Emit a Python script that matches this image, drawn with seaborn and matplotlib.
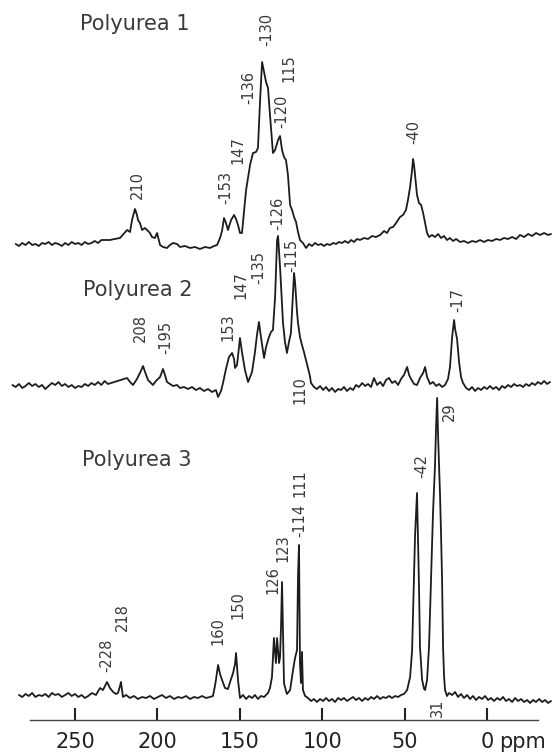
import matplotlib
matplotlib.use("Agg")
import matplotlib.pyplot as plt
import seaborn as sns
import pandas as pd

sns.set_style("white")
plt.rcParams['font.family'] = ['DejaVu Sans']
plt.rcParams['xtick.bottom'] = True

# ---------------- data (ppm, height above each trace's baseline) ----------------
p1_ppm = [286, 284, 282, 280, 278, 276, 274, 272, 270, 268, 266, 264, 262, 260, 258, 256, 254, 252, 250, 248,
          246, 244, 242, 240, 238, 236, 234, 228.8, 226, 222.7, 218.4, 216.6, 215.4, 213.6, 212.4, 211.8, 210.6,
          209.3, 207.5, 206.3, 204.5, 203.3, 201.5, 200.2, 198.4, 196.6, 194.2, 192.4, 190.5, 188.1, 186.3, 183.3,
          180.2, 177.2, 174.2, 171.1, 168.1, 165.7, 163.8, 162, 160.8, 159.6, 158.4, 157.2, 155.3, 153.5, 152.3,
          151.1, 149.9, 148.7, 146.2, 143.8, 142, 140.2, 139, 137.7, 136.5, 135.3, 134.1, 132.9, 131.7, 129.9,
          128.6, 126.8, 125.6, 124.4, 123.2, 122, 120.8, 119.5, 118.3, 117.1, 115.9, 114.7, 113.5, 111.7, 109.8,
          108, 106.2, 104.4, 102.5, 100.7, 98.9, 97.1, 95.3, 93.4, 91.6, 89.8, 88, 86.2, 84.3, 82.5, 80.7, 78.9,
          77.1, 74.6, 72.2, 69.8, 67.4, 64.9, 62.5, 60.7, 58.9, 57, 55.2, 52.8, 51, 49.2, 48, 46.7, 45.5, 44.9,
          44.3, 43.7, 42.5, 41.3, 40, 38.8, 37.6, 36.4, 35.2, 33.4, 31.6, 29.7, 27.9, 26.1, 24.3, 22.5, 20.6,
          18.8, 16.4, 14, 11.5, 9.1, 6.7, 4.2, 1.8, -0.6, -3, -5.5, -7.9, -10.3, -12.7, -15.2, -17.6, -20, -22.5,
          -24.9, -27.3, -29.7, -32.2, -34.6, -37, -38.8]
p1_int = [1, -1, 2, 0, 3, 0, 1, -1, 2, 1, 3, 0, 2, 1, -1, 2, 0, 3, 1, 2,
          0, 3, 1, 2, 4, 2, 5, 5, 6, 7, 15, 13, 25, 36, 30, 25, 22,
          15, 17, 15, 12, 8, 7, 12, 0, -2, -3, 0, 2, 1, -2, -1,
          -3, -2, -4, -2, -3, -1, 0, 7, 14, 27, 22, 15, 25, 30, 26,
          20, 12, 12, 55, 80, 92, 93, 97, 145, 183, 173, 163, 157, 130, 92,
          95, 105, 109, 95, 88, 85, 70, 40, 35, 28, 23, 13, 5, 2, -3,
          1, -1, 2, 0, 1, -1, 1, 0, 2, 1, 3, 2, 4, 2, 5, 3, 6,
          5, 7, 6, 9, 8, 10, 14, 12, 17, 18, 22, 28, 30, 35, 45, 58, 75, 86,
          80, 70, 50, 42, 40, 32, 22, 12, 8, 10, 8, 11, 7, 9, 5, 7, 4,
          6, 3, 4, 2, 4, 3, 5, 3, 5, 4, 6, 5, 7, 6, 8, 6, 10, 8,
          11, 9, 12, 10, 12, 10, 11]

p2_ppm = [288, 286, 284, 282, 280, 278, 276, 274, 272, 270, 268, 266, 264, 262, 260, 258, 256, 254, 252, 250,
          248, 246, 244, 242, 240, 238, 236, 234, 232, 230, 218.4, 216.6, 214.8, 212.4, 210.6, 208.7, 207.5,
          205.7, 203.9, 202.7, 200.9, 198.4, 196.6, 195.4, 194.2, 192.4, 190.5, 188.1, 186.3, 183.9, 181.4, 179,
          176.6, 174.2, 171.7, 169.3, 166.9, 164.5, 163.2, 161.4, 160.2, 158.4, 156.6, 154.7, 153.5, 152.9, 151.7,
          150.5, 149.9, 148.7, 146.9, 145, 142.6, 140.8, 139.6, 138.4, 137.2, 135.9, 135.3, 134.1, 132.3, 131.1,
          129.9, 128.6, 127.4, 126.8, 125.6, 123.8, 122.6, 121.4, 120.2, 119, 117.7, 117.1, 116.5, 115.3, 114.7,
          113.5, 112.3, 111.1, 110, 108.8, 107.6, 106.8, 105, 103.2, 101.3, 99.5, 97.7, 95.9, 94.1, 92.2, 90.4,
          88.6, 86.8, 85, 83.1, 81.3, 79.5, 77.7, 75.8, 74, 72.2, 70.4, 68.6, 66.7, 64.9, 63.1, 61.3, 59.5, 57.6,
          55.8, 54, 52.2, 50.4, 48.5, 47.3, 46.1, 44.3, 42.5, 40.7, 38.8, 37.6, 36.4, 34.6, 32.8, 30.9, 29.1,
          27.3, 25.5, 23.7, 22.5, 21.2, 20, 19.4, 18.2, 17, 15.8, 14.6, 12.7, 10.9, 9.1, 7.3, 5.5, 3.6, 1.8, 0,
          -1.8, -3.6, -5.5, -7.3, -9.1, -10.9, -12.7, -14.6, -16.4, -18.2, -20, -21.8, -23.7, -25.5, -27.3,
          -29.1, -30.9, -32.8, -34.6, -36.4, -38.2]
p2_int = [2, 0, 3, -1, 1, 4, 1, 3, 0, 2, -2, 1, 4, 2, 5, 1, 3, 0, 2, -1,
          1, 0, 3, 1, 4, 2, 5, 2, 6, 3, 9, 5, 2, 8, 14, 21, 15,
          7, 4, 2, 6, 10, 18, 12, 5, 3, 1, 2, -1, 0, -2, 0,
          -3, -1, -4, -2, -5, -3, -10, -4, 4, 18, 30, 34, 28, 19, 22,
          40, 49, 35, 17, 5, 15, 35, 52, 65, 50, 36, 29, 40, 50, 55,
          57, 90, 147, 151, 120, 64, 45, 34, 45, 54, 95, 114, 105, 75, 64,
          50, 42, 35, 28, 20, 12, 4, 0, -2, 1, -3, 0, -4, -1, -5, -2,
          -3, 0, -4, -1, -3, 2, 0, 4, 1, 3, 0, 9, 2, 5, 1, 7, 9, 4,
          6, 2, 8, 12, 20, 12, 8, 3, 2, 9, 14, 20, 10, 3, 5, 1, 3,
          0, 2, 8, 20, 50, 67, 58, 48, 25, 10, 4, -1, -3, 0, -4, -1, -3, 0, -2,
          1, -2, 0, -3, 1, -1, 2, 0, 3, 1, 2, 0, 3, 1, 4,
          2, 5, 3, 6, 3, 5]

p3_ppm = [284, 282, 280, 278, 276, 274, 272, 270, 268, 266, 264, 262, 260, 258, 256, 254, 252, 250, 248, 246,
          244, 242, 239.7, 237.3, 234.8, 233, 230.6, 228.8, 226.9, 225.1, 223.9, 222.7, 222.1, 220.9, 219, 216.6,
          214.2, 211.8, 209.3, 206.9, 204.5, 202.1, 199.6, 197.2, 194.8, 192.4, 189.9, 187.5, 185.1, 182.6, 180.2,
          177.8, 175.4, 172.9, 170.5, 168.1, 166.3, 165.1, 164.5, 163.2, 162, 160.8, 159, 157.2, 155.9, 154.1,
          152.9, 152.3, 151.7, 151.1, 149.9, 148.1, 146.2, 144.4, 142.6, 140.8, 139, 137.2, 135.3, 132.9, 131.7,
          130.5, 129.3, 128.1, 127.4, 126.2, 125.6, 125, 124.4, 123.8, 123.2, 122, 121.4, 119.5, 117.7, 116.5,
          115.3, 114.7, 114.1, 113.5, 112.9, 112.3, 111.7, 110.4, 108.6, 106.8, 105, 103.2, 101.3, 99.5, 97.7,
          95.9, 94.1, 92.2, 90.4, 88.6, 86.8, 85, 83.1, 81.3, 79.5, 77.7, 75.8, 74, 72.2, 70.4, 68.6, 66.7, 64.9,
          63.1, 61.3, 59.5, 57.6, 55.8, 54, 52.2, 50.4, 48.5, 46.7, 45.5, 44.9, 43.7, 42.5, 41.9, 41.3, 40.7,
          39.4, 38.2, 37.6, 36.4, 35.2, 34.6, 33.4, 32.8, 31.6, 31, 30.3, 29.7, 29.1, 28.5, 27.9, 27.3, 26.7,
          26.1, 25.5, 24.3, 23.1, 21.2, 19.4, 17.6, 15.8, 14, 12.1, 10.3, 8.5, 6.7, 4.9, 3, 1.2, -0.6, -2.4,
          -4.2, -6.1, -7.9, -9.7, -11.5, -13.3, -15.2, -17, -18.8, -20.6, -22.5, -24.3, -26.1, -27.9, -29.7,
          -31.6, -33.4, -35.2, -37, -38.8]
p3_int = [1, -1, 2, 0, 3, -1, 1, 0, 2, -1, 3, 1, 2, -1, 1, 3, 0, 2, -1, 1,
          -2, 0, 3, 1, 8, 6, 14, 8, 4, 2, 3, 10, 14, -1, 1, -2,
          0, -3, -1, -2, 0, -3, -1, 1, -2, 0, -3, -1, -2, 0, -3,
          -1, -2, 0, -2, -1, 0, 10, 16, 31, 22, 16, 8, 7, 14, 23,
          32, 43, 30, 16, -2, 1, -3, 0, -2, 1, -3, 0, -1, 3, 8,
          19, 58, 33, 58, 33, 39, 70, 114, 66, 13, 5, 2, 6, 26, 38,
          46, 120, 151, 33, 13, 44, 6, 0, -2, -5, -3, -6, -3, -5, -2,
          -5, -3, -6, -2, -4, -2, -5, -3, -1, -4, -2, -5, -2, -4, -1, -3, 0, -3,
          -1, -2, 0, -2, 0, -1, 1, 2, 6, 19, 45, 83, 160, 203, 156, 110, 49,
          16, 7, 6, 16, 50, 83, 150, 183, 230, 266, 298, 259, 230, 199, 160, 116, 49,
          20, 6, 0, 3, 1, 4, -1, 2, -2, 1, -3, 0, -4, -1, -3, 0, -4, -2,
          -5, -2, -4, -1, -5, -3, -6, -2, -5, -3, -6, -4, -7, -4, -6,
          -3, -6, -4, -7, -5]

trace_names = ["Polyurea 1", "Polyurea 2", "Polyurea 3"]
tick_values = [250, 200, 150, 100, 50, 0]
tick_labels = ["250", "200", "150", "100", "50", "0"]
unit_label = "ppm"

peak_labels_1 = ["210", "-153", "147", "-136", "-130", "-120", "115", "-40"]
peak_ppm_1 = [212.4, 158.4, 151.1, 144.4, 133.5, 124.4, 120.2, 44.3]
peak_labels_2 = ["208", "-195", "153", "147", "-135", "-126", "-115", "110", "-17"]
peak_ppm_2 = [210.6, 194.8, 157.2, 149.3, 138.4, 126.8, 118.3, 113.5, 17.6]
peak_labels_3 = ["-228", "218", "160", "150", "126", "123", "-114", "111", "-42", "29", "31"]
peak_ppm_3 = [230.6, 221.5, 163.2, 151.1, 129.9, 123.8, 113.5, 113.5, 39.4, 23.1, 30.3]

# ---------------- layout / style ----------------
W, H, DPI = 553, 752, 100
fig = plt.figure(figsize=(W / DPI, H / DPI), dpi=DPI)
ax = fig.add_axes([30 / W, 32 / H, 508 / W, 720 / H])
ax.set_xlim(277.3, -30.9)
ax.set_ylim(0, 720)

offsets = [475, 333, 24]          # vertical baseline position of each trace
label_y = [[535, 532, 570, 632, 691, 609, 652, 588],
           [392, 383, 393, 435, 452, 507, 465, 330, 420],
           [65, 103, 89, 115, 140, 172, 200, 237, 254, 308, 12]]
title_pos = [(213.6, 696), (211.8, 430), (212.4, 260)]

line_color = "#1c1c1c"
text_color = "#3a3a3a"

spectra = [(p1_ppm, p1_int), (p2_ppm, p2_int), (p3_ppm, p3_int)]
peaks = [(peak_labels_1, peak_ppm_1), (peak_labels_2, peak_ppm_2), (peak_labels_3, peak_ppm_3)]

for i, (ppm, inten) in enumerate(spectra):
    df = pd.DataFrame({"ppm": ppm, "signal": [v + offsets[i] for v in inten]})
    sns.lineplot(data=df, x="ppm", y="signal", ax=ax, sort=False, estimator=None,
                 color=line_color, linewidth=1.3, clip_on=False)
    labs, pos = peaks[i]
    for lab, p, yy in zip(labs, pos, label_y[i]):
        ax.text(p, yy, lab, rotation=90, ha="center", va="center", fontsize=10.5,
                color=text_color)
    ax.text(title_pos[i][0], title_pos[i][1], trace_names[i], ha="center", va="center",
            fontsize=15, color=text_color)

ax.set_xticks(tick_values)
ax.set_xticklabels(tick_labels, fontsize=15, color="#222222")
ax.text(-7.5, -22, unit_label, ha="left", va="center", fontsize=15, color="#222222",
        transform=ax.transData, clip_on=False)
ax.tick_params(axis="x", which="major", bottom=True, direction="in", length=9, width=1.5,
               color="#222222", pad=9)
ax.set_yticks([])
ax.set_xlabel("")
ax.set_ylabel("")
for s in ["top", "left", "right"]:
    ax.spines[s].set_visible(False)
ax.spines["bottom"].set_color("#444444")
ax.spines["bottom"].set_linewidth(1.0)
ax.patch.set_alpha(0)

fig.savefig("out.png", dpi=DPI, facecolor="white")
